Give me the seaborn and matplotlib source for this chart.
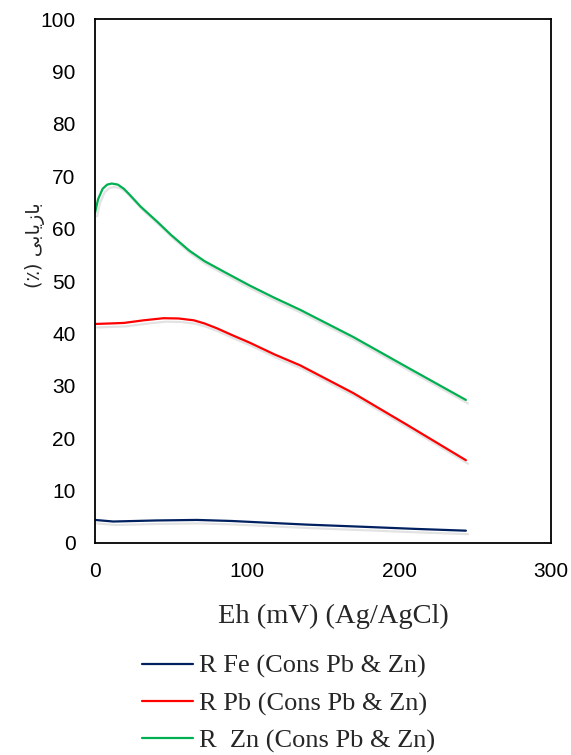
import numpy as np
import pandas as pd
from matplotlib import pyplot as plt
import matplotlib.patheffects as pe
import seaborn as sns

# values
eh_fe = [0, 12, 40, 67, 90, 111, 140, 176, 210, 244]
r_fe = [4.4, 4.1, 4.3, 4.4, 4.2, 3.9, 3.5, 3.1, 2.7, 2.35]

eh_pb = [0, 10, 19, 32, 45, 55, 65, 72, 80, 90, 102, 118, 135, 170, 205, 244]
r_pb = [41.8, 41.9, 42.0, 42.5, 42.9, 42.85, 42.5, 41.9, 41.0, 39.7, 38.2, 36.0, 33.9, 28.6, 22.6, 15.8]

eh_zn = [0, 2, 5, 8, 11, 15, 19, 23, 30, 41, 50, 62, 72, 84, 102, 118, 135, 170, 205, 244]
r_zn = [63.0, 65.6, 67.6, 68.4, 68.6, 68.4, 67.6, 66.4, 64.2, 61.3, 58.8, 55.8, 53.8, 51.9, 49.1, 46.8, 44.5, 39.3, 33.6, 27.3]

labels = ['R Fe (Cons Pb & Zn)', 'R Pb (Cons Pb & Zn)', 'R  Zn (Cons Pb & Zn)']
colors = ['#002060', '#FF0000', '#00B050']

df = pd.concat([
    pd.DataFrame({'Eh': eh_fe, 'R': r_fe, 'series': labels[0]}),
    pd.DataFrame({'Eh': eh_pb, 'R': r_pb, 'series': labels[1]}),
    pd.DataFrame({'Eh': eh_zn, 'R': r_zn, 'series': labels[2]}),
])

sns.set_theme(style='white')
plt.rcParams['font.family'] = ['Liberation Sans', 'DejaVu Sans']

fig = plt.figure(figsize=(5.71, 7.55), dpi=100)
ax = fig.add_axes([0.1664, 0.2808, 0.7986, 0.694])

sns.lineplot(data=df, x='Eh', y='R', hue='series', palette=colors,
             linewidth=1.6, ax=ax, legend=True)

for line in ax.lines:
    line.set_solid_joinstyle('round')
    line.set_path_effects([pe.SimpleLineShadow(offset=(1.5, -2.5), shadow_color='gray', alpha=0.22),
                           pe.Normal()])

ax.set_xlim(0, 300)
ax.set_ylim(0, 100)
ax.set_xticks([0, 100, 200, 300])
ax.set_yticks(range(0, 101, 10))
ax.tick_params(axis='both', labelsize=15, length=0, pad=14, colors='black')

for s in ax.spines.values():
    s.set_color('black')
    s.set_linewidth(1.3)

ax.set_xlabel('Eh (mV) (Ag/AgCl)', fontsize=20.5, family='Liberation Serif')
ax.xaxis.set_label_coords(0.523, -0.116)

# persian label, pre-shaped glyphs in visual order
ylab = '(\u066a) ' + '\ufbfd\ufe91\ufe8e\ufbfe\ufeaf\ufe8e\ufe91'
ax.set_ylabel(ylab, fontsize=14, family=['DejaVu Sans'])
ax.yaxis.set_label_coords(-0.11, 0.569)

handles, _ = ax.get_legend_handles_labels()
leg = ax.legend(handles, labels, loc='upper center', bbox_to_anchor=(0.505, 0.147),
                bbox_transform=fig.transFigure, frameon=False, ncol=1,
                prop={'family': 'Liberation Serif', 'size': 19},
                handlelength=1.95, handletextpad=0.2, labelspacing=0.5, borderaxespad=0)
for h in leg.get_lines():
    h.set_linewidth(1.6)
    h.set_path_effects([])

fig.savefig('out.png', dpi=100)
